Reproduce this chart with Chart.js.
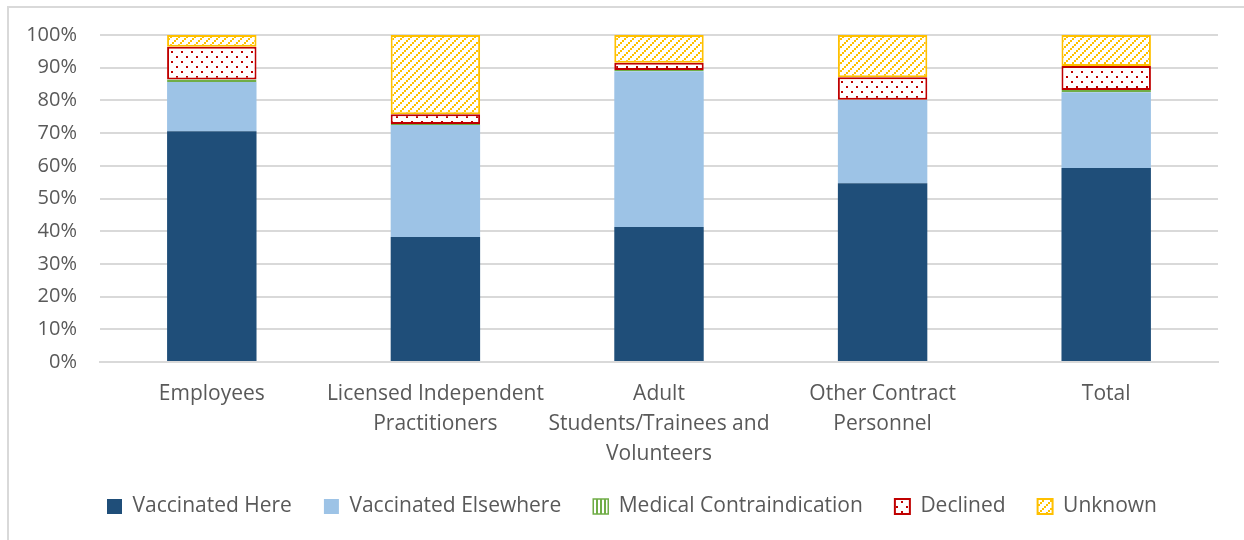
<!DOCTYPE html>
<html>
<head>
<meta charset="utf-8">
<script src="https://cdn.jsdelivr.net/npm/chart.js@4"></script>
<style>
  html, body { margin: 0; padding: 0; background: #fff; }
  #wrap { width: 1244px; height: 540px; }
</style>
</head>
<body>
<div id="wrap"><canvas id="chart"></canvas></div>
<script>
// categories and series (percent of each group)
const categories = [
    ['Employees'],
    ['Licensed Independent', 'Practitioners'],
    ['Adult', 'Students/Trainees and', 'Volunteers'],
    ['Other Contract', 'Personnel'],
    ['Total']
];
const vaccinatedHere = [70.6, 38.2, 41.3, 54.7, 59.3];
const vaccinatedElsewhere = [15.0, 34.3, 47.6, 25.4, 23.2];
const medicalContraindication = [0.8, 0.3, 0.4, 0.1, 0.7];
const declined = [10.0, 3.0, 2.2, 6.9, 7.3];
const unknown = [3.6, 24.2, 8.5, 12.9, 9.5];
const yTicks = [0, 10, 20, 30, 40, 50, 60, 70, 80, 90, 100];

const FONT = '"Open Sans"';
const TEXT = '#595959';

// little tiles for the patterned fills
function makePattern(size, draw) {
    const c = document.createElement('canvas');
    c.width = size;
    c.height = size;
    const ctx = c.getContext('2d');
    ctx.fillStyle = '#ffffff';
    ctx.fillRect(0, 0, size, size);
    draw(ctx);
    return ctx.createPattern(c, 'repeat');
}

const dotPattern = makePattern(10, ctx => {
    ctx.fillStyle = '#c00000';
    ctx.fillRect(1, 1, 2, 2);
    ctx.fillRect(6, 6, 2, 2);
});

const stripePattern = makePattern(8, ctx => {
    ctx.fillStyle = '#ffc000';
    ctx.fillRect(0, 6, 2, 2);
    ctx.fillRect(2, 4, 2, 2);
    ctx.fillRect(4, 2, 2, 2);
    ctx.fillRect(6, 0, 2, 2);
});

const vlinePattern = makePattern(4, ctx => {
    ctx.fillStyle = '#70ad47';
    ctx.fillRect(0, 0, 2, 4);
});

// thin grey frame like the office chart border
const framePlugin = {
    id: 'frame',
    beforeDraw(chart) {
        const ctx = chart.ctx;
        ctx.save();
        ctx.strokeStyle = '#d9d9d9';
        ctx.lineWidth = 2;
        ctx.beginPath();
        ctx.moveTo(8, 540);
        ctx.lineTo(8, 7);
        ctx.lineTo(1244, 7);
        ctx.stroke();
        ctx.restore();
    }
};

// x labels need a tall axis box (they are clipped to it), so nudge the legend
const legendShift = {
    id: 'legendShift',
    afterLayout(chart) {
        const lg = chart.legend;
        lg.top -= 4;
        lg.bottom -= 4;
        lg.left += 23;
        lg.right += 23;
    }
};

new Chart(document.getElementById('chart'), {
    type: 'bar',
    data: {
        labels: categories,
        datasets: [
            { label: 'Vaccinated Here', data: vaccinatedHere, backgroundColor: '#1f4e79', borderWidth: 0 },
            { label: 'Vaccinated Elsewhere', data: vaccinatedElsewhere, backgroundColor: '#9dc3e6', borderWidth: 0 },
            { label: 'Medical Contraindication', data: medicalContraindication, backgroundColor: vlinePattern, borderColor: '#70ad47', borderWidth: 1.5, borderSkipped: false },
            { label: 'Declined', data: declined, backgroundColor: dotPattern, borderColor: '#c00000', borderWidth: 2, borderSkipped: false },
            { label: 'Unknown', data: unknown, backgroundColor: stripePattern, borderColor: '#ffc000', borderWidth: 2, borderSkipped: false }
        ]
    },
    options: {
        responsive: true,
        maintainAspectRatio: false,
        animation: false,
        layout: { padding: { top: 35, right: 26, left: 0, bottom: 9 } },
        datasets: { bar: { barPercentage: 0.4, categoryPercentage: 1 } },
        scales: {
            x: {
                stacked: true,
                grid: { display: false },
                border: { color: '#d9d9d9', width: 2 },
                ticks: {
                    color: TEXT,
                    padding: 9,
                    maxRotation: 0,
                    autoSkip: false,
                    font: { family: FONT, size: 21, lineHeight: 1.42 }
                },
                afterFit(scale) { scale.height = 106; }
            },
            y: {
                stacked: true,
                min: 0,
                max: 100,
                afterBuildTicks(scale) { scale.ticks = yTicks.map(v => ({ value: v })); },
                grid: { color: '#d9d9d9', lineWidth: 2, drawTicks: false },
                border: { display: false },
                ticks: {
                    color: TEXT,
                    padding: 23,
                    font: { family: FONT, size: 20 },
                    callback: v => v + '%'
                },
                afterFit(scale) { scale.width = 100; }
            }
        },
        plugins: {
            legend: {
                position: 'bottom',
                labels: {
                    color: TEXT,
                    boxWidth: 15,
                    boxHeight: 15,
                    padding: 32,
                    font: { family: FONT, size: 21 }
                }
            },
            tooltip: { enabled: false }
        }
    },
    plugins: [framePlugin, legendShift]
});
</script>
</body>
</html>
